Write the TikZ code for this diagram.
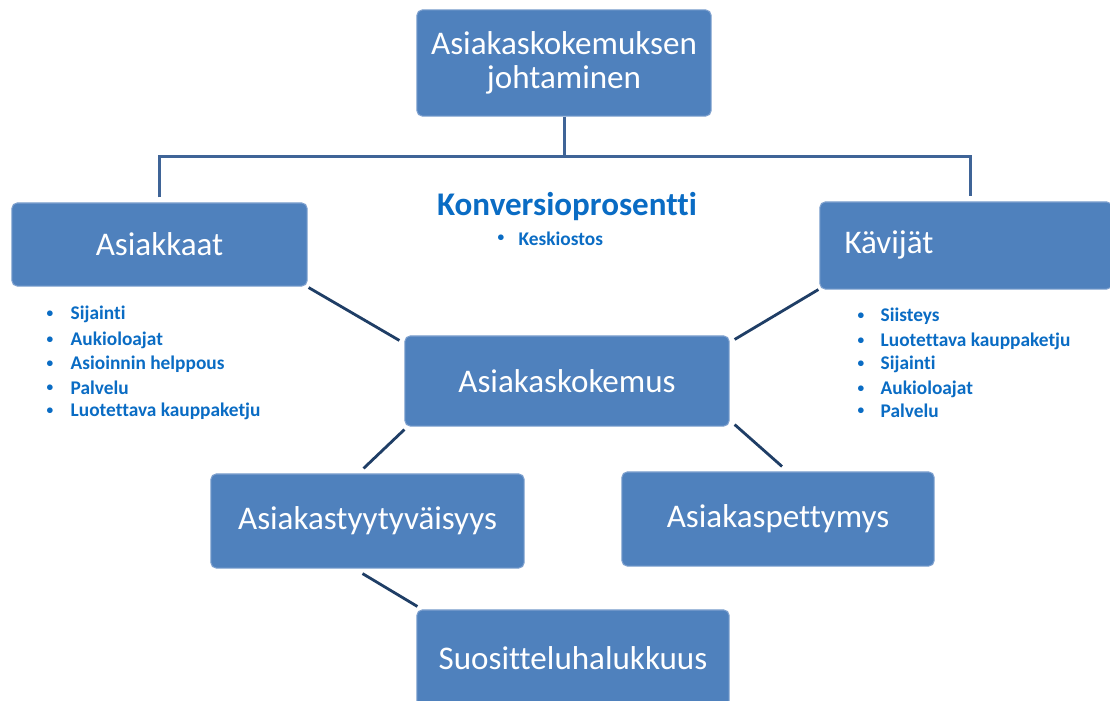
\documentclass[tikz,border=0pt]{standalone}
\usepackage{fontspec}
\setmainfont[Ligatures=NoCommon]{Carlito}
\usetikzlibrary{calc}
\definecolor{boxblue}{HTML}{4F81BD}
\definecolor{boxedge}{HTML}{7FA1CF}
\definecolor{treeline}{HTML}{3F6497}
\definecolor{linkline}{HTML}{1F3E66}
\definecolor{listblue}{HTML}{0A6CC4}
\tikzset{
  box/.style={rectangle, rounded corners=1.5pt, fill=boxblue, draw=boxedge,
    line width=0.3pt, text=white, align=center, inner sep=0pt,
    font=\fontsize{9.4}{9.8}\selectfont},
  boxtext/.style={text=white, inner sep=0pt, font=\fontsize{9.4}{9.8}\selectfont},
  tree/.style={draw=treeline, line width=0.85pt},
  link/.style={draw=linkline, line width=0.8pt},
  item/.style={text=listblue, inner sep=0pt, anchor=west,
    font=\fontsize{5.5}{6}\selectfont\bfseries},
  dot/.style={text=listblue, inner sep=0pt, font=\fontsize{3.8}{5}\selectfont\bfseries},
  heading/.style={text=listblue, inner sep=0pt, font=\fontsize{9.4}{10}\selectfont\bfseries}
}
\begin{document}
\begin{tikzpicture}[x=0.01cm,y=-0.01cm]
\useasboundingbox (0,0) rectangle (1110,700);
\clip (0,0) rectangle (1110,700);
\fill[white] (0,0) rectangle (1110,700);

% boxes
\node[box, minimum width=2.94cm, minimum height=1.06cm] (top) at (564,63)
  {Asiakaskokemuksen\\johtaminen};
\node[box, minimum width=2.95cm, minimum height=0.83cm] (asi) at (159.5,244.5) {Asiakkaat};
\node[box, minimum width=2.92cm, minimum height=0.87cm] (kav) at (966,245.5) {};
\node[boxtext] (kavt) at (889,245) {Kävijät};
\node[box, minimum width=3.24cm, minimum height=0.90cm] (ak) at (567,381) {Asiakaskokemus};
\node[box, minimum width=3.13cm, minimum height=0.94cm] (asty) at (367.5,521) {Asiakastyytyväisyys};
\node[box, minimum width=3.12cm, minimum height=0.94cm] (apet) at (778,519) {Asiakaspettymys};
\node[box, minimum width=3.12cm, minimum height=0.96cm] (suos) at (573,658) {Suositteluhalukkuus};

% tree from the top box
\coordinate (busL) at ($(asi.north)+(0,-46)$);
\draw[tree] (top.south) -- (top.south |- busL);
\draw[tree] ($(asi.north)+(0,-5)$) -- (busL) -| ($(kav.north)+(4,-5)$);

% links
\draw[link] ($(asi.south east)+(1,1)$) -- ($(ak.north west)+(-5,5)$);
\draw[link] ($(kav.south west)+(-1,0)$) -- ($(ak.north east)+(5,4)$);
\draw[link] ($(ak.south west)+(0,3)$) -- ($(asty.north)+(-4,-5)$);
\draw[link] ($(ak.south east)+(5,-2)$) -- ($(apet.north)+(4,-5)$);
\draw[link] ($(asty.south)+(-5,5)$) -- ($(suos.north west)+(1,-3)$);

% centre heading
\node[heading] (konv) at (567,206) {Konversioprosentti};
\node[dot] (kd) at (501,238) {•};
\node[item] (kesk) at (518,239) {Keskiostos};

% left list
\foreach \t/\y [count=\i] in {Sijainti/314, Aukioloajat/340, Asioinnin helppous/364,
    Palvelu/388, Luotettava kauppaketju/411} {
  \node[dot] (ld\i) at (50,\y) {•};
  \node[item] (li\i) at (70,\y) {\t};
}

% right list
\foreach \t/\y [count=\i] in {Siisteys/316, Luotettava kauppaketju/341, Sijainti/364,
    Aukioloajat/389, Palvelu/411} {
  \node[dot] (rd\i) at (861,\y) {•};
  \node[item] (ri\i) at (880,\y) {\t};
}
\end{tikzpicture}
\end{document}
